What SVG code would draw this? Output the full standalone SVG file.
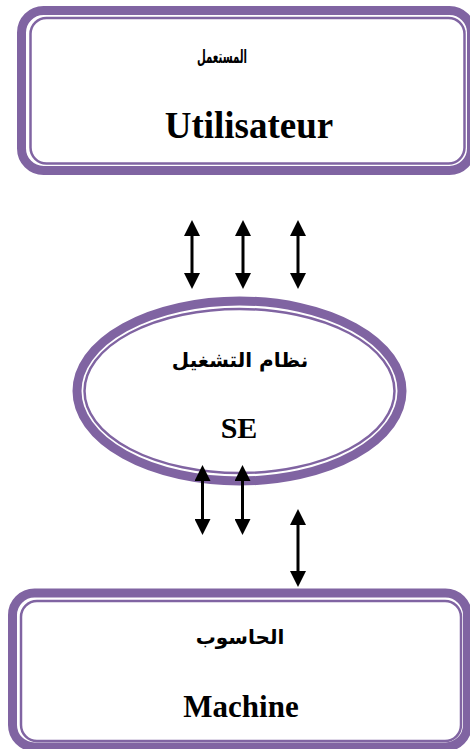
<svg xmlns="http://www.w3.org/2000/svg" width="470" height="749" viewBox="0 0 470 749">
  <style>
    .thick { fill: none; stroke: #8064A2; stroke-width: 9; }
    .thin { fill: none; stroke: #8064A2; stroke-width: 2.5; }
    .lat { font-family: "Liberation Serif", "Times New Roman", serif; font-weight: bold; fill: #000; text-anchor: middle; }
    .ar { font-family: "DejaVu Sans", "Noto Sans", sans-serif; font-weight: bold; fill: #000; text-anchor: middle; }
    .arrow { stroke: #000; stroke-width: 3; fill: none; marker-start: url(#head); marker-end: url(#head); }
  </style>
  <defs>
    <marker id="head" viewBox="0 0 16 16" markerUnits="userSpaceOnUse" markerWidth="16" markerHeight="16" refX="8" refY="8" orient="auto-start-reverse">
      <path d="M0,0 L16,8 L0,16 z" fill="#000"/>
    </marker>
  </defs>
  <rect width="470" height="749" fill="#fff"/>

  <g id="utilisateur">
    <rect class="thick" x="21.5" y="10.5" width="450" height="160" rx="22" ry="22"/>
    <rect class="thin" x="30.5" y="18" width="434" height="145.5" rx="16" ry="16"/>
    <text class="ar" x="222" y="63" font-size="19" textLength="50" lengthAdjust="spacingAndGlyphs">المستعمل</text>
    <text class="lat" x="249" y="138" font-size="37">Utilisateur</text>
  </g>

  <g id="se">
    <ellipse class="thick" cx="239.5" cy="391" rx="162.5" ry="90" stroke-width="8"/>
    <ellipse class="thin" cx="239.5" cy="391" rx="155" ry="82" stroke-width="2"/>
    <text class="ar" x="240" y="367" font-size="20">نظام التشغيل</text>
    <text class="lat" x="239" y="438" font-size="30">SE</text>
  </g>

  <g id="machine">
    <rect class="thick" x="12.5" y="593" width="455" height="154" rx="22" ry="22"/>
    <rect class="thin" x="21" y="601" width="440" height="140" rx="16" ry="16"/>
    <text class="ar" x="240" y="644" font-size="20">الحاسوب</text>
    <text class="lat" x="241" y="717" font-size="31">Machine</text>
  </g>

  <g id="connectors">
    <line class="arrow" x1="192" y1="228" x2="192" y2="281"/>
    <line class="arrow" x1="243" y1="228" x2="243" y2="281"/>
    <line class="arrow" x1="298" y1="228" x2="298" y2="281"/>
    <line class="arrow" x1="202.5" y1="473" x2="202.5" y2="527"/>
    <line class="arrow" x1="242.5" y1="473" x2="242.5" y2="527"/>
    <line class="arrow" x1="298" y1="517" x2="298" y2="579"/>
  </g>
</svg>
